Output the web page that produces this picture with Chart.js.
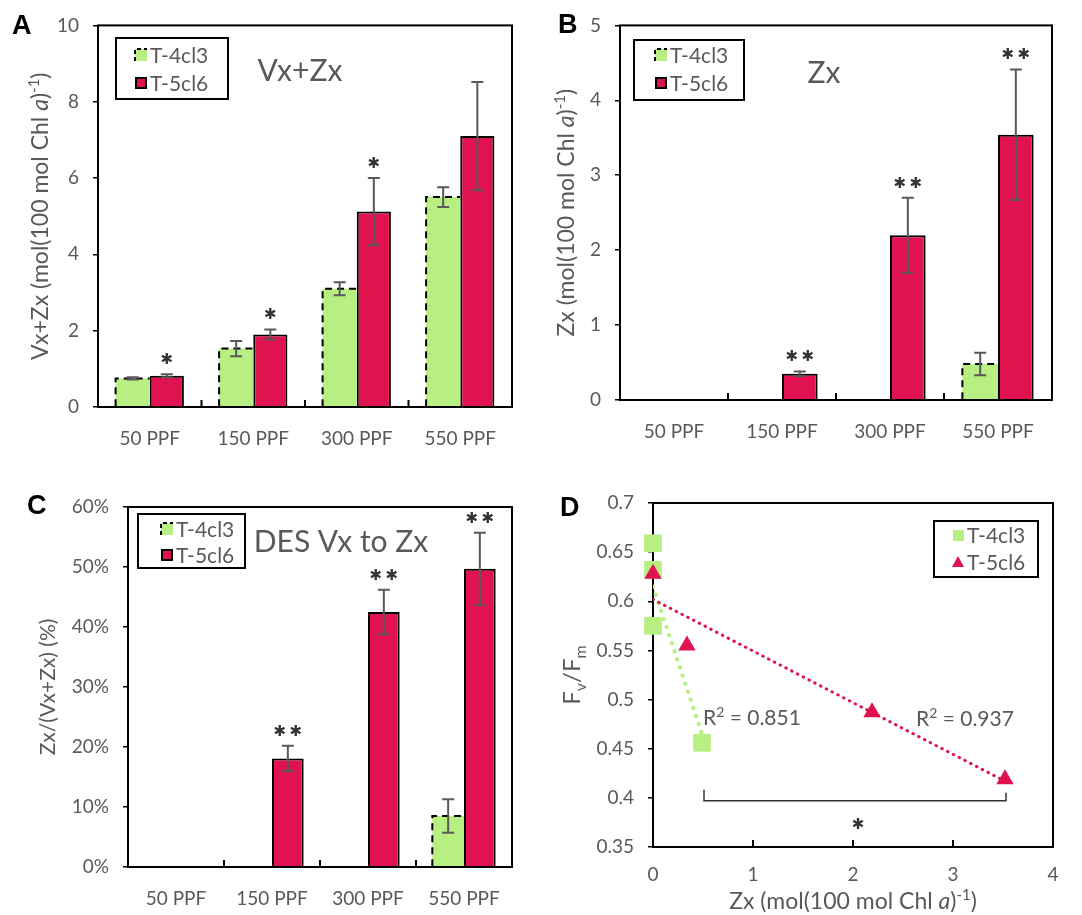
<!DOCTYPE html>
<html>
<head>
<meta charset="utf-8">
<script src="https://cdn.jsdelivr.net/npm/chart.js@4/dist/chart.umd.min.js"></script>
<style>
  body { margin: 0; background: #fff; }
  #wrap { position: relative; width: 1082px; height: 915px; }
  canvas { position: absolute; }
</style>
</head>
<body>
<div id="wrap">
  <canvas id="cA" width="540" height="460" style="left:0;top:0"></canvas>
  <canvas id="cB" width="542" height="460" style="left:540px;top:0"></canvas>
  <canvas id="cC" width="540" height="455" style="left:0;top:460px"></canvas>
  <canvas id="cD" width="542" height="455" style="left:540px;top:460px"></canvas>
</div>
<script>
// light levels
var ppf = ['50 PPF', '150 PPF', '300 PPF', '550 PPF'];

// A: Vx+Zx
var vzT4 = [0.75, 1.53, 3.1, 5.5];
var vzT4Err = [0.03, 0.2, 0.17, 0.26];
var vzT5 = [0.82, 1.9, 5.12, 7.1];
var vzT5Err = [0.04, 0.13, 0.88, 1.42];
var vzSig = ['*', '*', '*', ''];

// B: Zx
var zxT4 = [0, 0, 0, 0.48];
var zxT4Err = [0, 0, 0, 0.15];
var zxT5 = [0, 0.35, 2.2, 3.54];
var zxT5Err = [0, 0.03, 0.5, 0.87];
var zxSig = ['', '**', '**', '**'];

// C: de-epoxidation state (%)
var desT4 = [0, 0, 0, 8.5];
var desT4Err = [0, 0, 0, 2.8];
var desT5 = [0, 18.1, 42.5, 49.7];
var desT5Err = [0, 2.1, 3.7, 6.0];
var desSig = ['', '**', '**', '**'];

// D: Fv/Fm vs Zx
var fvT4Zx = [0, 0, 0, 0.49];
var fvT4 = [0.659, 0.632, 0.575, 0.456];
var fvT5Zx = [0, 0.34, 2.19, 3.52];
var fvT5 = [0.628, 0.555, 0.487, 0.419];
var trendT4 = [[0, 0.615], [0.49, 0.465]];
var trendT5 = [[0, 0.602], [3.52, 0.417]];
var r2T4 = '0.851';
var r2T5 = '0.937';

var FONT = 'Lato, "Open Sans", sans-serif';
var GREY = '#595959';
var GREEN = '#b8ef82';
var RED = '#e0124f';
var STAR = '\u2731';

Chart.defaults.font.family = FONT;
Chart.defaults.color = GREY;

// draw text made of parts (italic / superscript / subscript), centred on x,y
function richDraw(ctx, parts, x, y, size, rot, align) {
  ctx.save();
  ctx.translate(x, y);
  if (rot) ctx.rotate(-Math.PI / 2);
  ctx.textBaseline = 'alphabetic';
  ctx.textAlign = 'left';
  ctx.fillStyle = GREY;
  function fontOf(p) {
    var s = (p.sup || p.sub) ? size * 0.65 : size;
    return (p.it ? 'italic ' : '') + Math.round(s) + 'px ' + FONT;
  }
  var w = 0;
  parts.forEach(function(p) { ctx.font = fontOf(p); w += ctx.measureText(p.t).width; });
  var cx = align == 'left' ? 0 : -w / 2;
  parts.forEach(function(p) {
    ctx.font = fontOf(p);
    var dy = p.sup ? -size * 0.38 : p.sub ? size * 0.22 : 0;
    ctx.fillText(p.t, cx, size * 0.35 + dy);
    cx += ctx.measureText(p.t).width;
  });
  ctx.restore();
}

function legendMarker(ctx, type, x, y) {
  ctx.save();
  if (type == 'dashbox') {
    ctx.fillStyle = GREEN;
    ctx.fillRect(x - 6, y - 6, 12, 12);
    ctx.strokeStyle = '#000';
    ctx.lineWidth = 2;
    ctx.setLineDash([4, 3]);
    ctx.beginPath();
    ctx.moveTo(x - 6, y + 6); ctx.lineTo(x - 6, y - 6); ctx.lineTo(x + 6, y - 6);
    ctx.stroke();
  } else if (type == 'box') {
    ctx.fillStyle = '#000';
    ctx.fillRect(x - 6, y - 6, 12, 12);
    ctx.fillStyle = RED;
    ctx.fillRect(x - 4, y - 4, 8, 8);
  } else if (type == 'sq') {
    ctx.fillStyle = GREEN;
    ctx.fillRect(x - 5, y - 5, 11, 11);
  } else if (type == 'tri') {
    ctx.fillStyle = RED;
    ctx.beginPath();
    ctx.moveTo(x, y - 6); ctx.lineTo(x + 6, y + 5); ctx.lineTo(x - 6, y + 5);
    ctx.closePath();
    ctx.fill();
  }
  ctx.restore();
}

function stars(ctx, n, x, y) {
  ctx.save();
  ctx.fillStyle = '#333';
  ctx.font = '15px "DejaVu Sans", sans-serif';
  ctx.textAlign = 'center';
  ctx.textBaseline = 'middle';
  for (var k = 0; k < n; k++) {
    ctx.fillText(STAR, x + (k - (n - 1) / 2) * 16, y);
  }
  ctx.restore();
}

var deco = {
  id: 'deco',
  beforeDatasetsDraw: function(chart, args, o) {
    var ctx = chart.ctx, a = chart.chartArea, xs = chart.scales.x;
    ctx.save();
    // plot frame
    ctx.strokeStyle = '#000';
    ctx.lineWidth = 2;
    ctx.strokeRect(a.left, a.top, a.right - a.left, a.bottom - a.top);
    // inner x ticks
    ctx.beginPath();
    if (o.innerTicks == 'between') {
      for (var i = 1; i < chart.data.labels.length; i++) {
        var px = (xs.getPixelForValue(i - 1) + xs.getPixelForValue(i)) / 2;
        ctx.moveTo(px, a.bottom); ctx.lineTo(px, a.bottom - 7);
      }
    } else if (o.innerTicks == 'values') {
      xs.ticks.forEach(function(t) {
        var px = xs.getPixelForValue(t.value);
        if (px > a.left + 2 && px < a.right - 2) { ctx.moveTo(px, a.bottom); ctx.lineTo(px, a.bottom - 7); }
      });
    }
    ctx.stroke();
    ctx.restore();
  },
  afterDatasetsDraw: function(chart, args, o) {
    if (!o.bars) return;
    var ctx = chart.ctx, ys = chart.scales.y;
    // dashed outline of T-4cl3 bars
    chart.data.datasets.forEach(function(ds, di) {
      if (!ds.dashed) return;
      chart.getDatasetMeta(di).data.forEach(function(el, i) {
        if (!ds.data[i]) return;
        var l = el.x - el.width / 2, r = el.x + el.width / 2;
        ctx.save();
        ctx.strokeStyle = '#000';
        ctx.lineWidth = 2;
        ctx.setLineDash([7, 5]);
        ctx.beginPath();
        ctx.moveTo(l, el.base); ctx.lineTo(l, el.y); ctx.lineTo(r, el.y);
        ctx.stroke();
        ctx.restore();
      });
    });
    // error bars and significance stars
    chart.data.datasets.forEach(function(ds, di) {
      chart.getDatasetMeta(di).data.forEach(function(el, i) {
        var v = ds.data[i];
        if (!v) return;
        var e = ds.errors[i];
        var top = ys.getPixelForValue(v + e), bot = ys.getPixelForValue(v - e);
        ctx.save();
        ctx.strokeStyle = GREY;
        ctx.lineWidth = 2;
        ctx.beginPath();
        ctx.moveTo(el.x, top); ctx.lineTo(el.x, bot);
        ctx.moveTo(el.x - 6, top); ctx.lineTo(el.x + 6, top);
        ctx.moveTo(el.x - 6, bot); ctx.lineTo(el.x + 6, bot);
        ctx.stroke();
        ctx.restore();
        if (ds.sig && ds.sig[i]) stars(ctx, ds.sig[i].length, el.x, top - 14);
      });
    });
    // redraw the baseline over the bars
    var a = chart.chartArea;
    ctx.save();
    ctx.strokeStyle = '#000';
    ctx.lineWidth = 2;
    ctx.beginPath();
    ctx.moveTo(a.left, a.bottom); ctx.lineTo(a.right, a.bottom);
    ctx.stroke();
    ctx.restore();
  },
  afterDraw: function(chart, args, o) {
    var ctx = chart.ctx, a = chart.chartArea;
    ctx.save();
    // panel letter
    ctx.fillStyle = '#000';
    ctx.font = 'bold 27px "Liberation Sans", Arial, sans-serif';
    ctx.textBaseline = 'middle';
    ctx.textAlign = 'left';
    ctx.fillText(o.letter[0], o.letter[1], o.letter[2]);
    // title inside plot
    if (o.title) {
      ctx.fillStyle = GREY;
      ctx.font = o.title[3] + 'px ' + FONT;
      ctx.textAlign = 'center';
      ctx.fillText(o.title[0], o.title[1], o.title[2]);
    }
    // legend
    var lg = o.legend;
    ctx.fillStyle = '#fff';
    ctx.fillRect(lg.x, lg.y, lg.w, lg.h);
    ctx.strokeStyle = '#000';
    ctx.lineWidth = 2;
    ctx.strokeRect(lg.x, lg.y, lg.w, lg.h);
    lg.items.forEach(function(it, i) {
      var ry = lg.y + lg.row0 + i * lg.rowGap;
      legendMarker(ctx, it[1], lg.x + lg.mx, ry);
      ctx.fillStyle = GREY;
      ctx.font = '21px ' + FONT;
      ctx.textAlign = 'left';
      ctx.textBaseline = 'middle';
      ctx.fillText(it[0], lg.x + lg.mx + 9, ry + 1);
    });
    // axis titles
    richDraw(ctx, o.yTitle, o.yTitleX, (a.top + a.bottom) / 2, o.yTitleSize, true);
    if (o.xTitle) richDraw(ctx, o.xTitle, (a.left + a.right) / 2, o.xTitleY, o.xTitleSize, false);
    if (o.extra) o.extra(chart, ctx);
    ctx.restore();
  }
};

var unitParts = [{t: ' (mol(100 mol Chl '}, {t: 'a', it: true}, {t: ')'}, {t: '-1', sup: true}, {t: ')'}];

function barChart(id, o) {
  var cw = document.getElementById(id).width, ch = document.getElementById(id).height;
  return new Chart(document.getElementById(id), {
    type: 'bar',
    data: {
      labels: ppf,
      datasets: [
        {label: 'T-4cl3', data: o.t4, errors: o.t4Err, dashed: true, backgroundColor: GREEN, borderWidth: 0},
        {label: 'T-5cl6', data: o.t5, errors: o.t5Err, sig: o.sig, backgroundColor: RED, borderColor: '#000', borderWidth: 2}
      ]
    },
    options: {
      responsive: false,
      animation: false,
      layout: {padding: {top: o.area[1], right: cw - o.area[2], left: 0, bottom: 0}},
      datasets: {bar: {categoryPercentage: 0.66, barPercentage: 1}},
      plugins: {
        legend: {display: false},
        tooltip: {enabled: false},
        deco: {
          bars: true, innerTicks: 'between', letter: o.letter, title: o.title,
          legend: o.legend, yTitle: o.yTitle, yTitleX: o.yTitleX, yTitleSize: o.yTitleSize
        }
      },
      scales: {
        x: {
          grid: {display: false, drawTicks: false},
          border: {display: false},
          ticks: {font: {size: 19}, padding: 20, maxRotation: 0},
          afterFit: function(s) { s.height = ch - o.area[3]; }
        },
        y: {
          min: 0, max: o.max,
          grid: {drawOnChartArea: false, drawTicks: true, tickLength: 5, color: '#000', lineWidth: 1.5},
          border: {display: false},
          ticks: {font: {size: 19}, stepSize: o.step, padding: 14, callback: o.fmt || function(v) { return v; }},
          afterFit: function(s) { s.width = o.area[0]; }
        }
      }
    },
    plugins: [deco]
  });
}

function lg(x, y, w, h, mx, row0, gap, items) {
  return {x: x, y: y, w: w, h: h, mx: mx, row0: row0, rowGap: gap, items: items};
}
var barItems = [['T-4cl3', 'dashbox'], ['T-5cl6', 'box']];

barChart('cA', {
  t4: vzT4, t4Err: vzT4Err, t5: vzT5, t5Err: vzT5Err, sig: vzSig,
  area: [98, 19, 512, 407], max: 10, step: 2,
  letter: ['A', 12, 27], title: ['Vx+Zx', 300, 71, 30],
  legend: lg(116, 38, 112, 61, 25, 17, 28, barItems),
  yTitle: [{t: 'Vx+Zx'}].concat(unitParts), yTitleX: 40, yTitleSize: 23
});

barChart('cB', {
  t4: zxT4, t4Err: zxT4Err, t5: zxT5, t5Err: zxT5Err, sig: zxSig,
  area: [80, 17, 512, 400], max: 5, step: 1,
  letter: ['B', 18, 26], title: ['Zx', 284, 73, 30],
  legend: lg(94, 40, 110, 60, 27, 15, 28, barItems),
  yTitle: [{t: 'Zx'}].concat(unitParts), yTitleX: 26, yTitleSize: 23
});

barChart('cC', {
  t4: desT4, t4Err: desT4Err, t5: desT5, t5Err: desT5Err, sig: desSig,
  area: [128, 47, 512, 407], max: 60, step: 10, fmt: function(v) { return v + '%'; },
  letter: ['C', 27, 47], title: ['DES Vx to Zx', 341, 82, 30],
  legend: lg(138, 54, 107, 54, 29, 15, 26, barItems),
  yTitle: [{t: 'Zx/(Vx+Zx) (%)'}], yTitleX: 48, yTitleSize: 21
});

// D: scatter with trend lines
(function() {
  var cv = document.getElementById('cD');
  var area = [113, 43, 513, 387];
  function pts(xs, ys) { return xs.map(function(x, i) { return {x: x, y: ys[i]}; }); }
  function line(p) { return p.map(function(q) { return {x: q[0], y: q[1]}; }); }
  new Chart(cv, {
    type: 'scatter',
    data: {
      datasets: [
        {label: 'T-5cl6', data: pts(fvT5Zx, fvT5), clip: false, pointStyle: 'triangle', pointRadius: 10, backgroundColor: RED, borderWidth: 0},
        {label: 'T-4cl3', data: pts(fvT4Zx, fvT4), clip: false, pointStyle: 'rect', pointRadius: 12.5, backgroundColor: GREEN, borderWidth: 0},
        {label: 'trend T-5cl6', data: line(trendT5), showLine: true, pointRadius: 0, borderColor: RED, borderWidth: 3, borderDash: [0.5, 6], borderCapStyle: 'round'},
        {label: 'trend T-4cl3', data: line(trendT4), showLine: true, pointRadius: 0, borderColor: GREEN, borderWidth: 4, borderDash: [0.5, 8], borderCapStyle: 'round'}
      ]
    },
    options: {
      responsive: false,
      animation: false,
      layout: {padding: {top: area[1], right: cv.width - area[2], left: 0, bottom: 0}},
      plugins: {
        legend: {display: false},
        tooltip: {enabled: false},
        deco: {
          innerTicks: 'values', letter: ['D', 20, 49],
          legend: lg(394, 61, 104, 56, 24, 14, 27, [['T-4cl3', 'sq'], ['T-5cl6', 'tri']]),
          yTitle: [{t: 'F'}, {t: 'v', sub: true}, {t: '/F'}, {t: 'm', sub: true}], yTitleX: 32, yTitleSize: 24,
          xTitle: [{t: 'Zx'}].concat(unitParts), xTitleY: 441, xTitleSize: 23,
          extra: function(chart, ctx) {
            var xs = chart.scales.x, ys = chart.scales.y;
            var rParts = [{t: 'R'}, {t: '2', sup: true}, {t: ' = '}];
            richDraw(ctx, rParts.concat([{t: r2T4}]), xs.getPixelForValue(0.5), ys.getPixelForValue(0.482), 21, false, 'left');
            richDraw(ctx, rParts.concat([{t: r2T5}]), xs.getPixelForValue(2.63), ys.getPixelForValue(0.481), 21, false, 'left');
            // significance bracket
            var l = xs.getPixelForValue(0.51), r = xs.getPixelForValue(3.53), b = ys.getPixelForValue(0.397);
            ctx.strokeStyle = '#333';
            ctx.lineWidth = 1.5;
            ctx.beginPath();
            ctx.moveTo(l, b - 11); ctx.lineTo(l, b); ctx.lineTo(r, b); ctx.lineTo(r, b - 8);
            ctx.stroke();
            stars(ctx, 1, xs.getPixelForValue(2.05), ys.getPixelForValue(0.372));
          }
        }
      },
      scales: {
        x: {
          type: 'linear', min: 0, max: 4,
          grid: {display: false, drawTicks: false},
          border: {display: false},
          ticks: {font: {size: 19}, stepSize: 1, padding: 16},
          afterFit: function(s) { s.height = cv.height - area[3]; }
        },
        y: {
          min: 0.35, max: 0.7,
          grid: {drawOnChartArea: false, drawTicks: true, tickLength: 5, color: '#000', lineWidth: 1.5},
          border: {display: false},
          ticks: {font: {size: 19}, stepSize: 0.05, padding: 14, callback: function(v) { return +v.toFixed(2); }},
          afterFit: function(s) { s.width = area[0]; }
        }
      }
    },
    plugins: [deco]
  });
})();
</script>
</body>
</html>
